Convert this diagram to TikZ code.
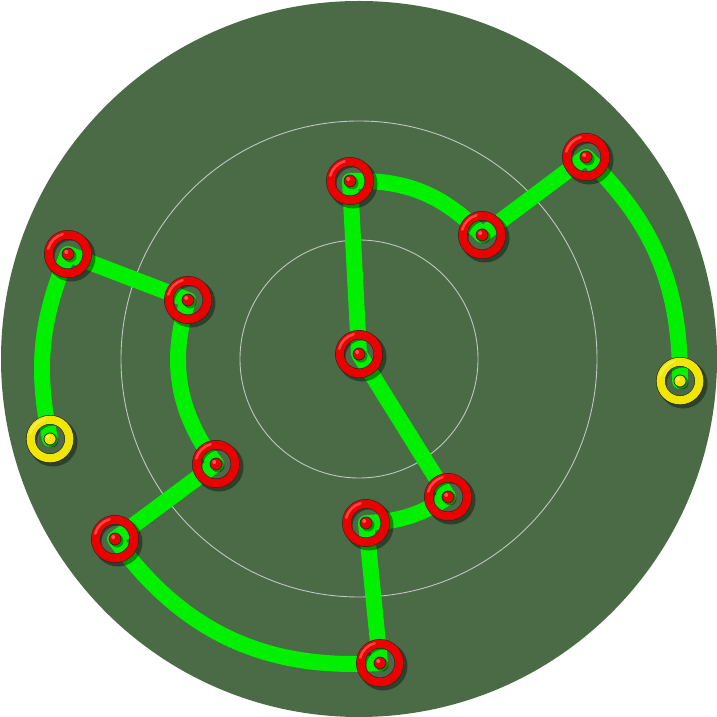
\documentclass[tikz,border=0pt]{standalone}
\usetikzlibrary{calc}
\pgfdeclarelayer{bgzero}
\pgfdeclarelayer{bgone}
\pgfsetlayers{bgzero,bgone,main}
\definecolor{board}{RGB}{74,107,70}
\definecolor{wiregreen}{RGB}{0,240,0}
\definecolor{ringred}{RGB}{235,0,0}
\definecolor{ringyellow}{RGB}{240,230,0}
\definecolor{guide}{RGB}{190,200,190}
\tikzset{
  ringnode/.style={circle, inner sep=0pt, minimum size=38.5pt, draw=black!85, line width=0.6pt,
    double=#1, double distance=8.2pt},
  ringnode/.default=ringred,
  wire/.style={draw=wiregreen, line width=16pt, line cap=round, line join=round},
  shadowring/.style={draw=black, opacity=0.4, line width=8pt},
  guidecircle/.style={draw=guide, line width=0.9pt},
}
\begin{document}
\begin{tikzpicture}[x=1pt,y=1pt]
\useasboundingbox (0,0) rectangle (717,717);
% nodes
\node[ringnode] (c)   at (359,363) {};
\node[ringnode] (n2)  at (350,536) {};
\node[ringnode] (n3)  at (482,482) {};
\node[ringnode] (n4)  at (586,560) {};
\node[ringnode=ringyellow] (y2)  at (680,336) {};
\node[ringnode] (n6)  at (68,463) {};
\node[ringnode] (n7)  at (188,417) {};
\node[ringnode] (n8)  at (216,253) {};
\node[ringnode] (n9)  at (115,178) {};
\node[ringnode] (n10) at (380,54) {};
\node[ringnode] (n11) at (366,194) {};
\node[ringnode] (n12) at (448,220) {};
\node[ringnode=ringyellow] (y1)  at (50,278) {};
% board
\begin{pgfonlayer}{bgzero}
  \fill[board] (359,358) circle (358);
  \draw[guidecircle] (359,358) circle (119);
  \draw[guidecircle] (359,358) circle (238);
\end{pgfonlayer}
% wire and shadows
\begin{pgfonlayer}{bgone}
  \draw[wire] (y1.center) to[bend left=17] (n6.center) -- (n7.center)
     to[bend right=27] (n8.center) -- (n9.center)
     to[bend right=29] (n10.center) -- (n11.center)
     to[bend right=15] (n12.center) -- (c.center) -- (n2.center)
     to[bend left=24] (n3.center) -- (n4.center)
     to[bend left=23] (y2.center);
  \foreach \n in {c,n2,n3,n4,y2,n6,n7,n8,n9,n10,n11,n12,y1}{
    \draw[shadowring] ($(\n.center)+(3,-3)$) circle (20.5);
    \fill[black, opacity=0.35] ($(\n.center)+(2,-2)$) circle (6.5);
  }
\end{pgfonlayer}
% highlights and centre dots
\foreach \n/\col in {c/ringred,n2/ringred,n3/ringred,n4/ringred,y2/ringyellow,n6/ringred,n7/ringred,n8/ringred,n9/ringred,n10/ringred,n11/ringred,n12/ringred,y1/ringyellow}{
  \draw[white, opacity=0.28, line width=2.5pt, line cap=round] ($(\n.center)+(105:20.5)$) arc (105:165:20.5);
  \fill[\col, draw=black!85, line width=0.7pt] (\n.center) circle (6);
  \fill[white, opacity=0.35] ($(\n.center)+(-1.8,2)$) circle (2);
}
\end{tikzpicture}
\end{document}
